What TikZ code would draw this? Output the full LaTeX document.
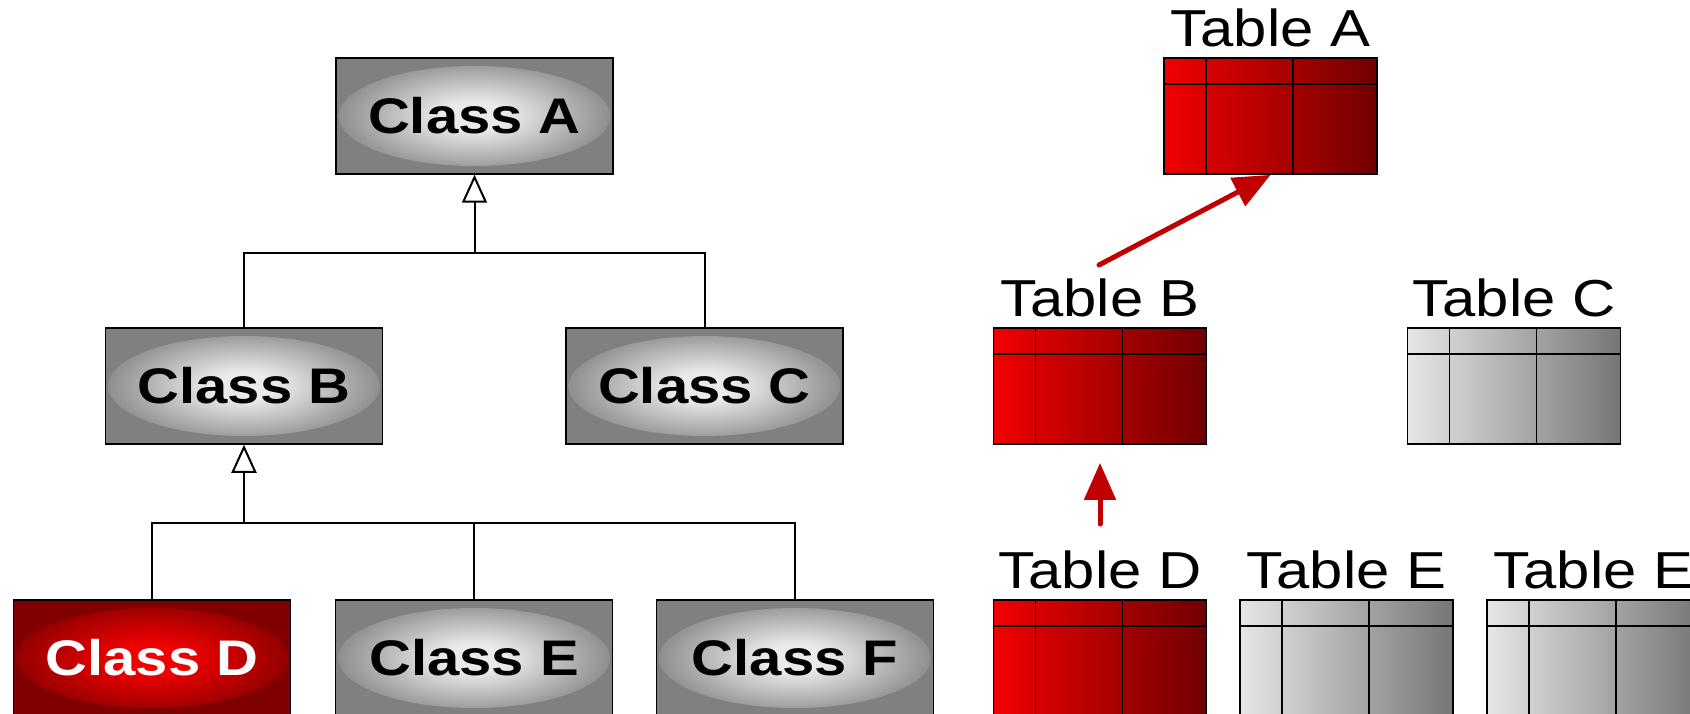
\documentclass[tikz,border=0pt]{standalone}
\usepackage{fontspec}
\setmainfont{Liberation Sans}
\usetikzlibrary{arrows.meta}
\definecolor{clsgray}{HTML}{808080}
\definecolor{clsin}{HTML}{EAEAEA}
\definecolor{clsedge}{HTML}{8C8C8C}
\definecolor{dred}{HTML}{800000}
\definecolor{bred}{HTML}{F00000}
\definecolor{rededge}{HTML}{900000}
\definecolor{tredL}{HTML}{F20000}
\definecolor{tredR}{HTML}{700000}
\definecolor{tgrayL}{HTML}{E6E6E6}
\definecolor{tgrayR}{HTML}{767676}
\definecolor{arrred}{HTML}{C00000}
\pgfdeclareradialshading{glowgray}{\pgfpoint{0bp}{0bp}}{color(0bp)=(clsin); color(6bp)=(clsin); color(25bp)=(clsedge); color(50bp)=(clsedge)}
\pgfdeclareradialshading{glowred}{\pgfpoint{0bp}{0bp}}{color(0bp)=(bred); color(6bp)=(bred); color(25bp)=(rededge); color(50bp)=(rededge)}
\newcommand\clstxt[1]{\scalebox{1.16}[1]{#1}}
\newcommand\tabtxt[1]{\scalebox{1.15}[1]{#1}}
\tikzset{
  clsbase/.style={draw=black, line width=1.5pt, minimum width=277pt, minimum height=116pt,
    inner sep=0pt, font=\fontsize{50}{60}\selectfont\bfseries},
  clsgraybox/.style={clsbase, fill=clsgray, text=black,
    path picture={\shade[shading=glowgray]
      (path picture bounding box.center) ellipse[x radius=136pt, y radius=50pt];}},
  clsredbox/.style={clsbase, fill=dred, text=white,
    path picture={\shade[shading=glowred]
      (path picture bounding box.center) ellipse[x radius=136pt, y radius=50pt];}},
  tabbase/.style={draw=black, line width=1.8pt, minimum width=213pt, minimum height=116pt,
    inner sep=0pt,
    path picture={
      \draw[black, line width=1.8pt]
        ([yshift=-26pt]path picture bounding box.north west) --
        ([yshift=-26pt]path picture bounding box.north east);
      \draw[black, line width=1.8pt]
        ([xshift=42pt]path picture bounding box.north west) --
        ([xshift=42pt]path picture bounding box.south west);
      \draw[black, line width=1.8pt]
        ([xshift=129pt]path picture bounding box.north west) --
        ([xshift=129pt]path picture bounding box.south west);
    }},
  tabred/.style={tabbase, left color=tredL, right color=tredR},
  tabgray/.style={tabbase, left color=tgrayL, right color=tgrayR},
  tablabel/.style={inner sep=0pt, anchor=base, font=\fontsize{52}{60}\selectfont},
  conn/.style={draw=black, line width=2pt},
  inh/.style={conn, -{Triangle[open, length=28pt, width=25pt]}},
  redarr/.style={draw=arrred, line width=5pt, line cap=round,
    -{Triangle[length=37pt, width=31pt]}},
}
\begin{document}
\begin{tikzpicture}[x=1pt, y=-1pt]
\useasboundingbox (0,0) rectangle (1690,714);
\clip (0,0) rectangle (1690,714);

% classes
\node[clsgraybox] (cA) at (474.5,116) {\clstxt{Class A}};
\node[clsgraybox] (cB) at (244,386) {\clstxt{Class B}};
\node[clsgraybox] (cC) at (704.5,386) {\clstxt{Class C}};
\node[clsredbox]  (cD) at (152,658) {\clstxt{Class D}};
\node[clsgraybox] (cE) at (474,658) {\clstxt{Class E}};
\node[clsgraybox] (cF) at (795,658) {\clstxt{Class F}};

\path (cA.south) ++(0,78) coordinate (jA);
\path (cB.south) ++(0,78) coordinate (jB);
\draw[conn] (cB.north) |- (jA) -| (cC.north);
\draw[inh] (jA) -- (cA.south);
\draw[conn] (cD.north) |- (jB) -| (cF.north);
\draw[conn] (cE.north) -- (cE.north |- jB);
\draw[inh] (jB) -- (cB.south);

% tables
\node[tabred]  (tA) at (1270.5,116) {};
\node[tabred]  (tB) at (1100,386) {};
\node[tabgray] (tC) at (1514,386) {};
\node[tabred]  (tD) at (1100,658) {};
\node[tabgray] (tE) at (1346.5,658) {};
\node[tabgray] (tF) at (1593.5,658) {};

\node[tablabel] (lA) at ([yshift=11pt]tA.north) {\tabtxt{Table A}};
\node[tablabel] (lB) at ([yshift=11pt]tB.north) {\tabtxt{Table B}};
\node[tablabel] (lC) at ([yshift=11pt]tC.north) {\tabtxt{Table C}};
\node[tablabel] (lD) at ([yshift=11pt]tD.north) {\tabtxt{Table D}};
\node[tablabel] (lE) at ([yshift=11pt]tE.north) {\tabtxt{Table E}};
\node[tablabel] (lF) at ([yshift=11pt]tF.north) {\tabtxt{Table E}};

\coordinate (sB) at (1099,265);
\coordinate (sD) at (1100,524);
\draw[redarr] (sB) -- (tA.south);
\draw[redarr, shorten >=18pt] (sD) -- (tB.south);
\end{tikzpicture}
\end{document}
